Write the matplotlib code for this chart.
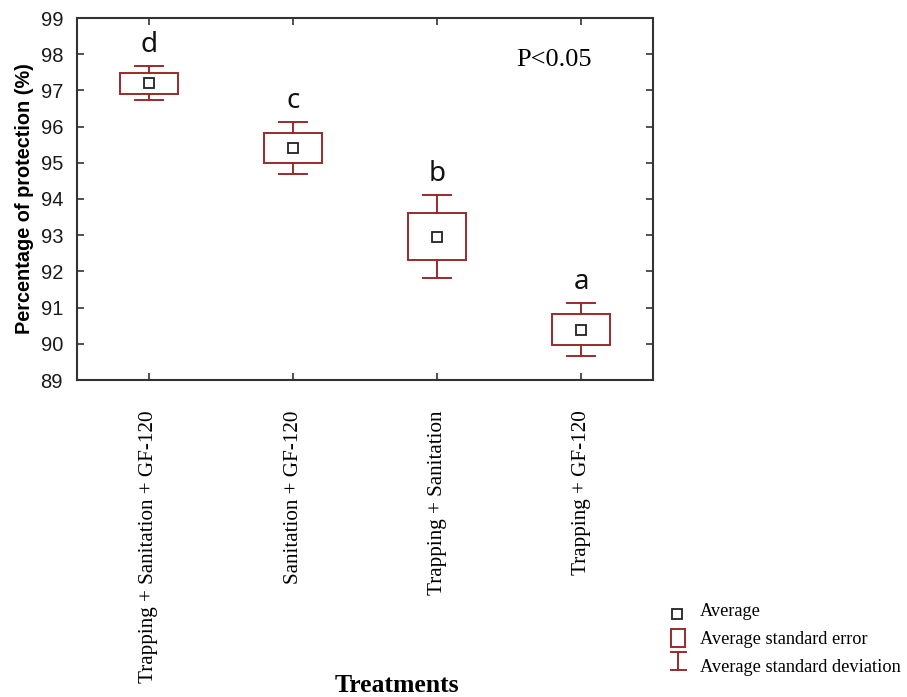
import numpy as np
import matplotlib
matplotlib.use("Agg")
import matplotlib.pyplot as plt
from matplotlib.patches import Rectangle
from matplotlib.lines import Line2D

# Data
treatments = [
    "Trapping + Sanitation + GF-120",
    "Sanitation + GF-120",
    "Trapping + Sanitation",
    "Trapping + GF-120",
]
means = [97.20, 95.41, 92.96, 90.39]
std_err = [0.29, 0.41, 0.65, 0.42]
std_dev = [0.47, 0.71, 1.15, 0.73]
letters = ["d", "c", "b", "a"]

BOX_COLOR = "#9a2a2a"
SPINE_COLOR = "#333333"
SERIF = "Liberation Serif"
SANS = "Liberation Sans"


def draw_box(ax, x, m, se, sd, box_w=0.4, cap_w=0.2):
    """Mean +- SE box with SD whiskers."""
    ax.add_patch(Rectangle((x - box_w / 2, m - se), box_w, 2 * se,
                           fill=False, edgecolor=BOX_COLOR, lw=1.4, zorder=3))
    ax.plot([x, x], [m + se, m + sd], color=BOX_COLOR, lw=1.4, zorder=3)
    ax.plot([x, x], [m - se, m - sd], color=BOX_COLOR, lw=1.4, zorder=3)
    ax.plot([x - cap_w / 2, x + cap_w / 2], [m + sd, m + sd], color=BOX_COLOR, lw=1.4, zorder=3)
    ax.plot([x - cap_w / 2, x + cap_w / 2], [m - sd, m - sd], color=BOX_COLOR, lw=1.4, zorder=3)
    ax.plot(x, m, marker="s", ms=7, mfc="white", mec="#222222", mew=1.3, zorder=4)


fig = plt.figure(figsize=(9.07, 6.97), dpi=100)
ax = fig.add_axes([77 / 907, 1 - 380 / 697, 576 / 907, 362 / 697])

xs = np.arange(1, len(treatments) + 1)
for x, m, se, sd, lt in zip(xs, means, std_err, std_dev, letters):
    draw_box(ax, x, m, se, sd)
    ax.text(x, m + sd + 0.2, lt, ha="center", va="bottom",
            fontsize=20, family="Noto Sans", color="#111111")

ax.set_xlim(0.5, 4.5)
ax.set_ylim(89, 99)
ax.set_yticks(np.arange(89, 100, 1))
ax.set_xticks(xs)
ax.set_xticklabels(treatments, rotation=90, family=SERIF, fontsize=15.2, va="top")
for lab in ax.get_yticklabels():
    lab.set_family(SANS)
    lab.set_fontsize(14.5)
    lab.set_color("#1a1a1a")
ax.tick_params(direction="in", top=True, right=True, length=5, width=1.2, color=SPINE_COLOR)
ax.tick_params(axis="x", pad=22)
ax.tick_params(axis="y", pad=10)
for sp in ax.spines.values():
    sp.set_color(SPINE_COLOR)
    sp.set_linewidth(1.5)

ax.set_ylabel("Percentage of protection (%)", family=SANS, fontweight="bold",
              fontsize=14.3, labelpad=5)
ax.text(0.828, 0.884, "P<0.05", transform=ax.transAxes, ha="center", va="center",
        family=SERIF, fontsize=19)

fig.text(397 / 907, 1 - 686 / 697, "Treatments", ha="center", va="center",
         family=SERIF, fontweight="bold", fontsize=18.5)

# legend drawn by hand in pixel coordinates of a small overlay axes
lg = fig.add_axes([640 / 907, 0, 267 / 907, 107 / 697])
lg.set_xlim(640, 907)
lg.set_ylim(697, 590)
lg.axis("off")
lg.plot(677, 614, marker="s", ms=6.5, mfc="white", mec="#222222", mew=1.3)
lg.add_patch(Rectangle((670.5, 629), 14, 18, fill=False, edgecolor=BOX_COLOR, lw=1.4))
lg.add_artist(Line2D([670.5, 685.5], [652, 652], color=BOX_COLOR, lw=1.4))
lg.add_artist(Line2D([678, 678], [652, 670], color=BOX_COLOR, lw=1.4))
lg.add_artist(Line2D([670.5, 685.5], [670, 670], color=BOX_COLOR, lw=1.4))
for yy, txt in zip([612, 639, 668],
                   ["Average", "Average standard error", "Average standard deviation"]):
    lg.text(700, yy, txt, ha="left", va="center", family=SERIF, fontsize=13.2)

fig.savefig("out.png", dpi=100)
